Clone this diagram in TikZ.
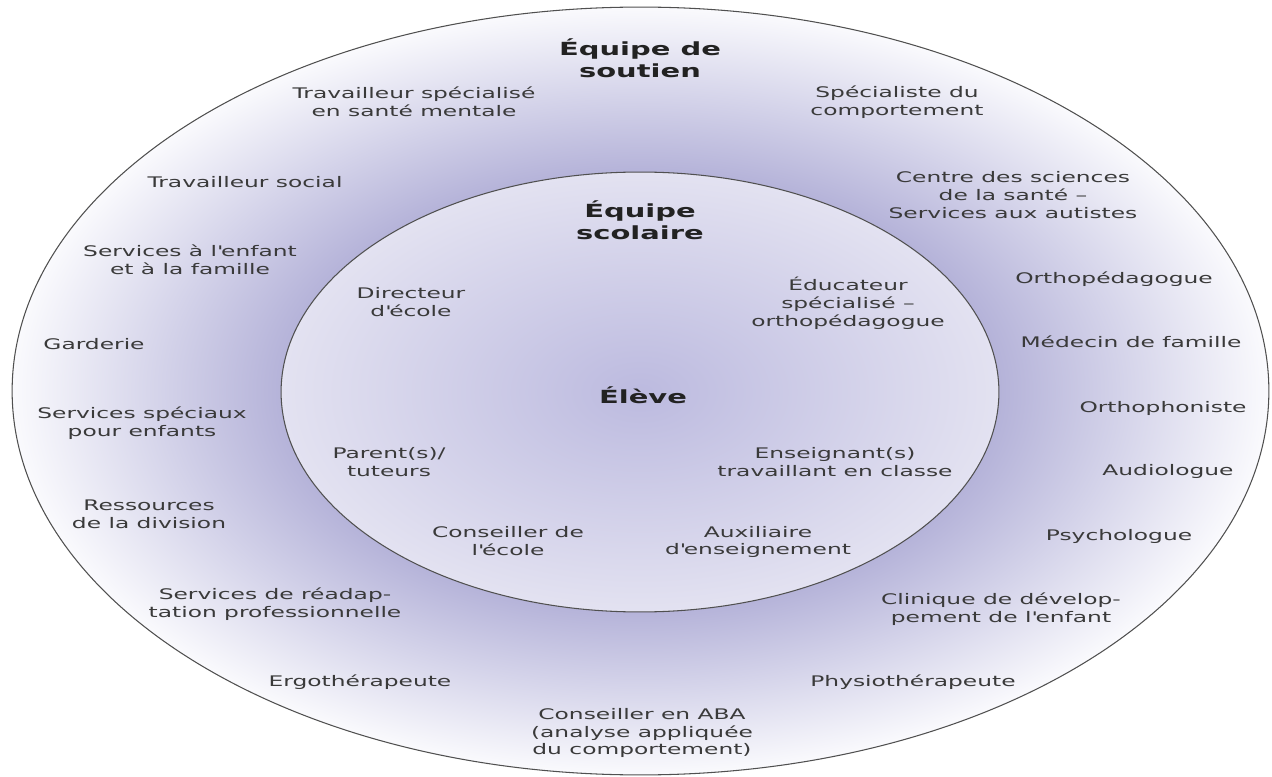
\documentclass[tikz,border=0pt]{standalone}
\usepackage{fontspec}
\setmainfont[FakeStretch=1.6]{DejaVu Sans}
\usepackage{tikz}
\definecolor{ink}{HTML}{3A3A3A}
\definecolor{inkbold}{HTML}{222222}
\definecolor{rimline}{HTML}{505050}
\definecolor{ringin}{HTML}{B5B3D9}
\definecolor{ringmid}{HTML}{D3D2E9}
\definecolor{ringout}{HTML}{FAFAFD}
\definecolor{corein}{HTML}{BCBADF}
\definecolor{coreout}{HTML}{E3E2F1}
\pgfdeclareradialshading{ringshade}{\pgfpoint{0bp}{0bp}}{color(0bp)=(ringin); color(14.3bp)=(ringin); color(19bp)=(ringmid); color(25bp)=(ringout); color(50bp)=(white)}
\newcommand{\apos}{\textquotesingle}

\begin{document}
\begin{tikzpicture}[
  x=0.02cm, y=-0.02cm,
  every node/.style={font=\fontsize{8.3}{10.2}\selectfont, text=ink, align=center, inner sep=0pt},
  team/.style={font=\fontsize{10.3}{12.8}\selectfont\bfseries, text=inkbold},
  outline/.style={draw=rimline, line width=0.6pt}
]
\useasboundingbox (0,0) rectangle (1272,777);

\shadedraw[outline, shading=ringshade] (640.5,391) ellipse [x radius=12.57cm, y radius=7.68cm];
\shadedraw[outline, inner color=corein, outer color=coreout] (640,392) ellipse [x radius=7.18cm, y radius=4.4cm];

\node[team] (soutien) at (640,58) {Équipe de\\soutien};
\node[team] (scolaire) at (640,220) {Équipe\\scolaire};
\node[team] (eleve) at (643,395) {Élève};

\node (sante) at (414,102) {Travailleur spécialisé\\en santé mentale};
\node (comport) at (897,102) {Spécialiste du\\comportement};
\node (social) at (245,182) {Travailleur social};
\node (autistes) at (1013,195) {Centre des sciences\\de la santé –\\Services aux autistes};
\node (famille) at (190,260) {Services à l\apos enfant\\et à la famille};
\node (orthoped) at (1114,279) {Orthopédagogue};
\node (garderie) at (94,344) {Garderie};
\node (medecin) at (1131,342) {Médecin de famille};
\node (speciaux) at (142,423) {Services spéciaux\\pour enfants};
\node (orthophon) at (1163,408) {Orthophoniste};
\node (division) at (149,514) {Ressources\\de la division};
\node (audio) at (1168,471) {Audiologue};
\node (psycho) at (1119,536) {Psychologue};
\node (readapt) at (275,604) {Services de réadap-\\tation professionnelle};
\node (clinique) at (1001,609) {Clinique de dévelop-\\pement de l\apos enfant};
\node (ergo) at (360,682) {Ergothérapeute};
\node (physio) at (913,682) {Physiothérapeute};
\node (aba) at (642,733) {Conseiller en ABA\\(analyse appliquée\\du comportement)};

\node (directeur) at (411,302) {Directeur\\d\apos école};
\node (educ) at (848,303) {Éducateur\\spécialisé –\\orthopédagogue};
\node (parent) at (389,462) {Parent(s)/\\tuteurs};
\node (enseignant) at (835,462) {Enseignant(s)\\travaillant en classe};
\node (conseiller) at (508,541) {Conseiller de\\l\apos école};
\node (auxiliaire) at (758,542) {Auxiliaire\\d\apos enseignement};
\end{tikzpicture}
\end{document}
